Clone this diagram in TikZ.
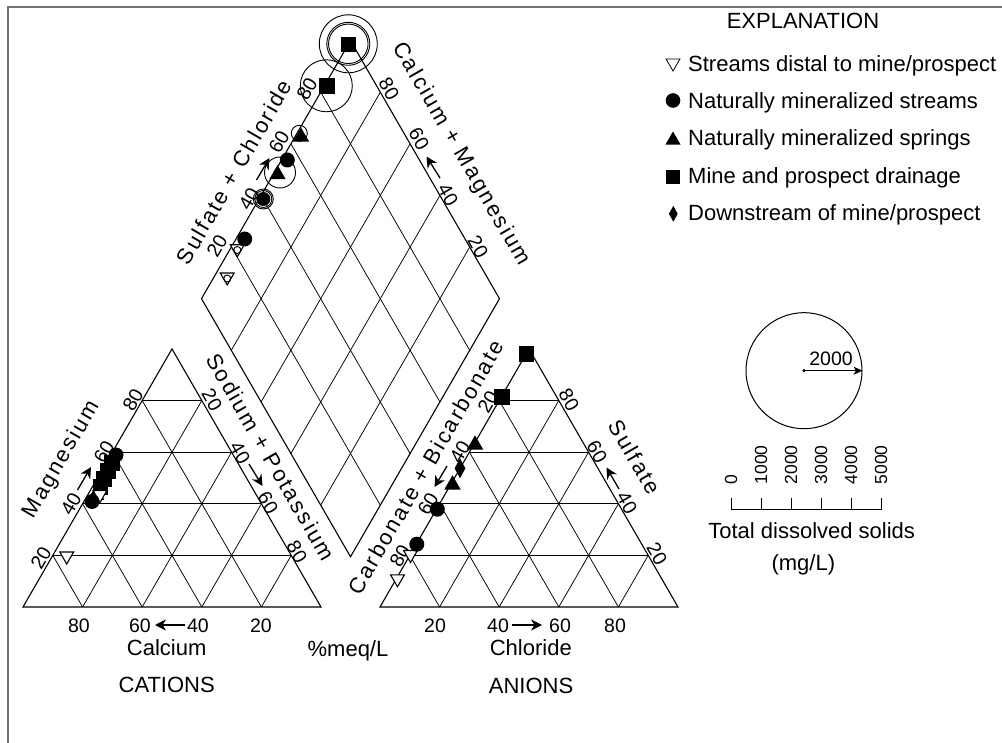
\documentclass[tikz,border=0pt]{standalone}
\usepackage{fontspec}
\setmainfont{Liberation Sans}
\newfontfamily\spacedfont[LetterSpace=10]{Liberation Sans}
\usetikzlibrary{calc,shapes.geometric,arrows.meta}
\begin{document}
\begin{tikzpicture}[x=1pt,y=-1pt,
 framel/.style={draw=black!55,line width=1.2pt},
 gridl/.style={line width=0.75pt},
 edgel/.style={line width=1.1pt},
 word/.style={font=\fontsize{22}{24}\selectfont,inner sep=0pt},
 num/.style={font=\fontsize{19.5}{22}\selectfont,inner sep=0pt},
 snum/.style={font=\fontsize{17.5}{20}\selectfont,inner sep=0pt},
 ttl/.style={font=\spacedfont\fontsize{22}{24}\selectfont,inner sep=0pt},
 axarrow/.style={line width=1.3pt,-{Stealth[length=11pt,width=11pt,inset=3.5pt]}},
 mdot/.style={circle,fill=black,inner sep=0pt,minimum size=15pt},
 msq/.style={rectangle,fill=black,inner sep=0pt,minimum size=15.5pt},
 mtri/.style={regular polygon,regular polygon sides=3,fill=black,inner sep=0pt,minimum size=19pt},
 mopen/.style={regular polygon,regular polygon sides=3,shape border rotate=180,draw=black,fill=white,line width=1.1pt,inner sep=0pt,minimum size=16pt},
 mdia/.style={diamond,fill=black,inner sep=0pt,minimum width=11pt,minimum height=20pt},
 ring/.style={circle,draw=black,line width=0.9pt,inner sep=0pt},
]
\useasboundingbox (0,0) rectangle (1002,743);
\fill[white] (0,0) rectangle (1002,743);
\draw[framel] (8,743) -- (8,7) -- (1002,7);

% geometry
\coordinate (A) at (23,607);
\coordinate (B) at (321,607);
\coordinate (C) at (172,348.92);
\coordinate (A2) at (380,607);
\coordinate (B2) at (678,607);
\coordinate (C2) at (529,348.92);
\coordinate (D) at (350.5,556.77);
\coordinate (L) at (201.5,298.69);
\coordinate (R) at (499.5,298.69);
\coordinate (T) at (350.5,40.61);

\foreach \t in {0.2,0.4,0.6,0.8}{
 \draw[gridl] ($(A)!\t!(C)$) -- ($(B)!\t!(C)$);
 \draw[gridl] ($(A)!\t!(B)$) -- ($(C)!\t!(B)$);
 \draw[gridl] ($(A)!\t!(B)$) -- ($(A)!\t!(C)$);
 \draw[gridl] ($(A2)!\t!(C2)$) -- ($(B2)!\t!(C2)$);
 \draw[gridl] ($(A2)!\t!(B2)$) -- ($(C2)!\t!(B2)$);
 \draw[gridl] ($(A2)!\t!(B2)$) -- ($(A2)!\t!(C2)$);
 \draw[gridl] ($(D)!\t!(L)$) -- ($(R)!\t!(T)$);
 \draw[gridl] ($(D)!\t!(R)$) -- ($(L)!\t!(T)$);
}
\draw[edgel] (A) -- (B) -- (C) -- cycle;
\draw[edgel] (A2) -- (B2) -- (C2) -- cycle;
\draw[edgel] (D) -- (L) -- (T) -- (R) -- cycle;

% tick labels, cation triangle
\node[num,rotate=60] (mg20) at (41,558) {20};
\node[num,rotate=60] (mg40) at (71,504) {40};
\node[num,rotate=60] (mg60) at (104,452) {60};
\node[num,rotate=60] (mg80) at (133,400) {80};
\node[num,rotate=-60] (nk20) at (212,400) {20};
\node[num,rotate=-60] (nk40) at (240,453) {40};
\node[num,rotate=-60] (nk60) at (268,503) {60};
\node[num,rotate=-60] (nk80) at (297,552) {80};
\node[num,anchor=base] (ca80) at (79,632) {80};
\node[num,anchor=base] (ca60) at (140,632) {60};
\node[num,anchor=base] (ca40) at (198,632) {40};
\node[num,anchor=base] (ca20) at (261,632) {20};
% anion triangle
\node[num,rotate=60] (cb20) at (488,402) {20};
\node[num,rotate=60] (cb40) at (460,452) {40};
\node[num,rotate=60] (cb60) at (428,504) {60};
\node[num,rotate=60] (cb80) at (400,556) {80};
\node[num,rotate=-60] (so80) at (569,400) {80};
\node[num,rotate=-60] (so60) at (597,452) {60};
\node[num,rotate=-60] (so40) at (627,503) {40};
\node[num,rotate=-60] (so20) at (657,554) {20};
\node[num,anchor=base] (cl20) at (435,632) {20};
\node[num,anchor=base] (cl40) at (498,632) {40};
\node[num,anchor=base] (cl60) at (560,632) {60};
\node[num,anchor=base] (cl80) at (615,632) {80};
% diamond
\node[num,rotate=60] (sc20) at (217,246) {20};
\node[num,rotate=60] (sc40) at (249,199) {40};
\node[num,rotate=60] (sc60) at (279,142) {60};
\node[num,rotate=60] (sc80) at (307,89) {80};
\node[num,rotate=-60] (cm80) at (389,89) {80};
\node[num,rotate=-60] (cm60) at (419,139) {60};
\node[num,rotate=-60] (cm40) at (448,195) {40};
\node[num,rotate=-60] (cm20) at (478,247) {20};

% axis arrows
\coordinate (a1t) at (185,625); \coordinate (a1h) at (155,625);
\coordinate (a2t) at (512,625); \coordinate (a2h) at (542,625);
\coordinate (a3t) at (77.5,490); \coordinate (a3h) at (91,467);
\coordinate (a4t) at (249,464); \coordinate (a4h) at (262.5,486);
\coordinate (a5t) at (447,466); \coordinate (a5h) at (434.5,487);
\coordinate (a6t) at (619,489); \coordinate (a6h) at (606.5,467.5);
\coordinate (a7t) at (256.5,180); \coordinate (a7h) at (269.5,158);
\coordinate (a8t) at (440,178); \coordinate (a8h) at (426.5,156.5);
\draw[axarrow] (a1t) -- (a1h);
\draw[axarrow] (a2t) -- (a2h);
\draw[axarrow] (a3t) -- (a3h);
\draw[axarrow] (a4t) -- (a4h);
\draw[axarrow] (a5t) -- (a5h);
\draw[axarrow] (a6t) -- (a6h);
\draw[axarrow] (a7t) -- (a7h);
\draw[axarrow] (a8t) -- (a8h);

% axis titles
\node[ttl,rotate=60] (tmg) at (61.7,460) {Magnesium};
\node[ttl,rotate=-60] (tnk) at (271,457) {Sodium + Potassium};
\node[ttl,rotate=60] (tcb) at (426,467) {Carbonate + Bicarbonate};
\node[ttl,rotate=-60] (tso) at (635,457) {Sulfate};
\node[ttl,rotate=60] (tsc) at (234,172) {Sulfate + Chloride};
\node[ttl,rotate=-60] (tcm) at (461,154) {Calcium + Magnesium};
\node[word,anchor=base] (tca) at (166.7,655) {Calcium};
\node[word,anchor=base] (tcat) at (166.7,692) {CATIONS};
\node[word,anchor=base] (tmeq) at (348,656) {\%meq/L};
\node[word,anchor=base] (tcl) at (530.8,655) {Chloride};
\node[word,anchor=base] (tan) at (531,693) {ANIONS};

% data: diamond
\node[ring,minimum size=58pt] (dr1) at (348.3,43.8) {};
\node[ring,minimum size=43pt] (dr2) at (348.3,43.8) {};
\node[ring,minimum size=39.5pt] (dr3) at (348.3,43.8) {};
\node[msq] (ds1) at (348.3,44.3) {};
\node[ring,minimum size=52pt] (dr4) at (326.3,85.8) {};
\node[msq] (ds2) at (327.2,86.2) {};
\node[ring,minimum size=16pt] (dr5) at (299.3,133.3) {};
\node[mtri] (dt1) at (301,137) {};
\node[mdot] (dc1) at (287.3,160) {};
\node[mtri] (dt2) at (277.5,174.5) {};
\node[ring,minimum size=31pt] (dr6) at (280,172.5) {};
\node[ring,minimum size=20pt] (dr7) at (263.3,199) {};
\node[ring,minimum size=17pt] (dr8) at (263.3,199) {};
\node[mdot,minimum size=14pt] (dc2) at (263.3,199) {};
\node[mopen] (dv1) at (237.3,248.8) {};
\node[ring,minimum size=7pt] (dr9) at (237.3,250) {};
\node[mdot] (dc3) at (244.7,239) {};
\node[mopen] (dv2) at (227.2,277) {};
\node[ring,minimum size=7pt] (dr10) at (227.2,278.5) {};

% data: cations
\node[mopen] (lv1) at (66.7,556) {};
\node[msq] (ls1) at (112,463) {};
\node[msq] (ls2) at (108,471) {};
\node[msq] (ls3) at (104,479) {};
\node[msq] (ls4) at (100.5,487) {};
\node[mtri] (lt1) at (96,495) {};
\node[mopen] (lv2) at (100,494.5) {};
\node[mdot] (lc1) at (116,455) {};
\node[mdot] (lc2) at (92,501.5) {};

% data: anions
\node[msq] (rs1) at (526.7,354.2) {};
\node[msq] (rs2) at (501.8,396.8) {};
\node[mtri] (rt1) at (475,444.8) {};
\node[mdia] (rd1) at (460,468.3) {};
\node[mtri] (rt2) at (452.5,484.8) {};
\node[mopen] (rv1) at (410.5,554.5) {};
\node[mdot] (rc1) at (437.3,509.2) {};
\node[mdot] (rc2) at (416.8,544.2) {};
\node[mopen] (rv2) at (397.5,578.8) {};

% explanation
\node[word,anchor=base] (expl) at (803,28.3) {EXPLANATION};
\node[mopen,line width=0.8pt,minimum size=16pt] (k1) at (673,63) {};
\node[mdot,minimum size=14.6pt] (k2) at (673,100.5) {};
\node[mtri,minimum size=17.5pt] (k3) at (673,140.2) {};
\node[msq,minimum size=14pt] (k4) at (673,176.7) {};
\node[mdia,minimum width=9pt,minimum height=16pt] (k5) at (673.3,213.8) {};
\node[word,anchor=base west] (k1t) at (688,71.5) {Streams distal to mine/prospect};
\node[word,anchor=base west] (k2t) at (688,108.3) {Naturally mineralized streams};
\node[word,anchor=base west] (k3t) at (688,146) {Naturally mineralized springs};
\node[word,anchor=base west] (k4t) at (688,184) {Mine and prospect drainage};
\node[word,anchor=base west] (k5t) at (688,220.5) {Downstream of mine/prospect};

% TDS scale
\node[ring,line width=1pt,minimum size=116pt] (tdsc) at (804,370.7) {};
\node[circle,fill=black,inner sep=0pt,minimum size=3.5pt] (tdsdot) at (804,370.7) {};
\draw[line width=1pt,-{Stealth[length=9pt,width=8pt,inset=2.5pt]}] (tdsdot.center) -- (tdsc.east);
\node[num,anchor=base] (t2000) at (831,366) {2000};
\draw[line width=0.9pt] (731,497.5) -- (731,509) -- (881,509) -- (881,497.5);
\foreach \xx in {761,791,821,851}{\draw[line width=0.9pt] (\xx,497.5) -- (\xx,509);}
\node[snum,rotate=90,anchor=west] (s0) at (731,484.5) {0};
\node[snum,rotate=90,anchor=west] (s1) at (761,484.5) {1000};
\node[snum,rotate=90,anchor=west] (s2) at (791,484.5) {2000};
\node[snum,rotate=90,anchor=west] (s3) at (821,484.5) {3000};
\node[snum,rotate=90,anchor=west] (s4) at (851,484.5) {4000};
\node[snum,rotate=90,anchor=west] (s5) at (881,484.5) {5000};
\node[word,anchor=base] (tds1) at (811.7,538) {Total dissolved solids};
\node[word,anchor=base] (tds2) at (803.3,570) {(mg/L)};
\end{tikzpicture}
\end{document}
